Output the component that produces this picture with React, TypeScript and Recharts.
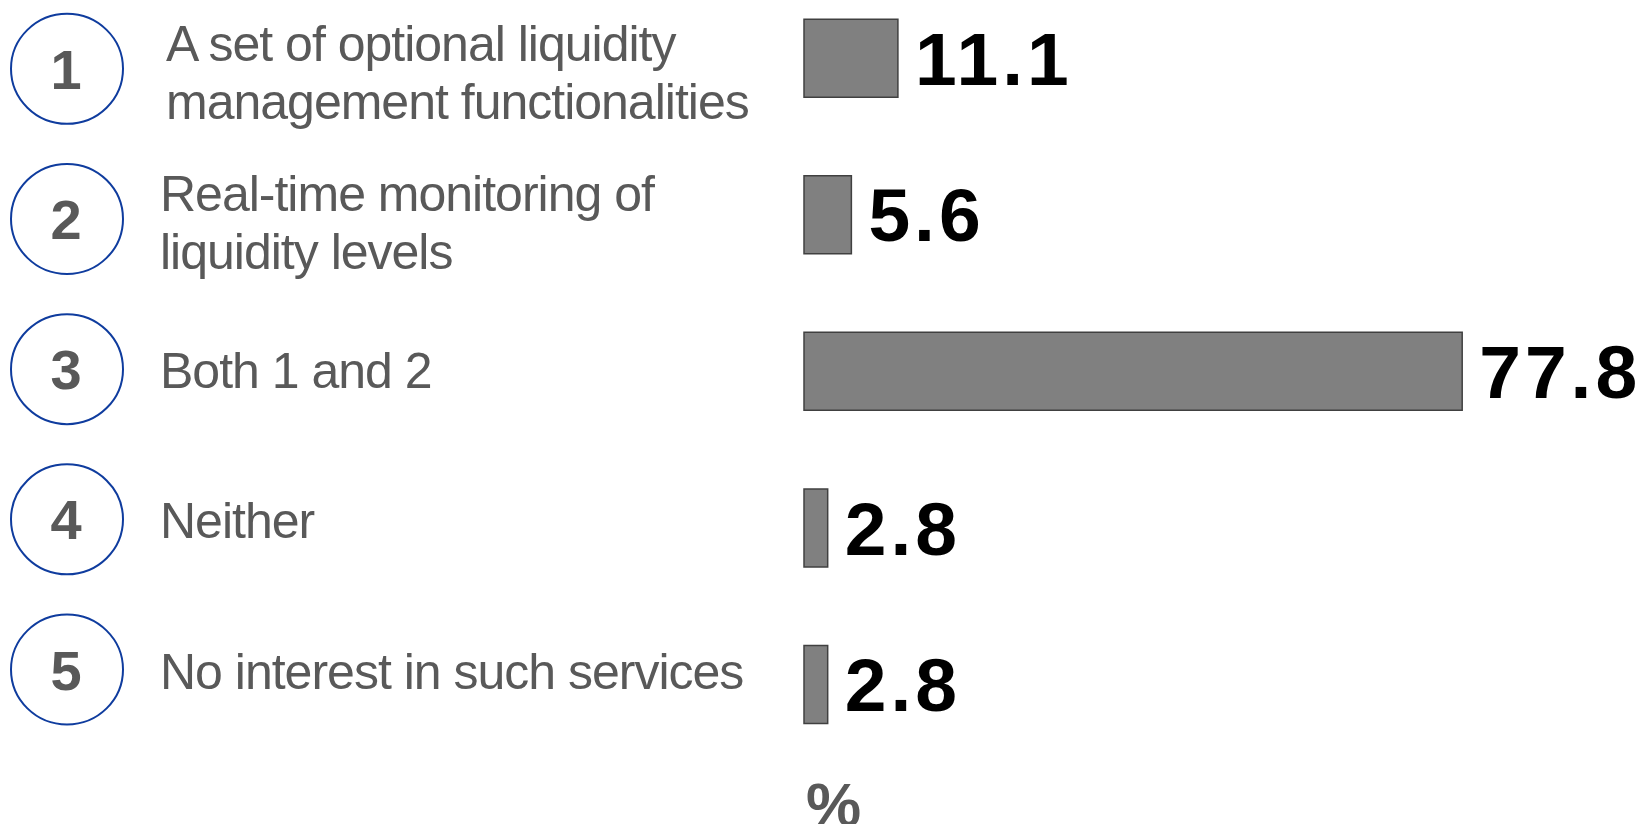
import { BarChart, Bar, XAxis, YAxis, LabelList, Label } from 'recharts';

const numbers = ['1', '2', '3', '4', '5'];
const labelLines = [
  ['A set of optional liquidity', 'management functionalities'],
  ['Real-time monitoring of', 'liquidity levels'],
  ['Both 1 and 2'],
  ['Neither'],
  ['No interest in such services'],
];
const values = [11.1, 5.6, 77.8, 2.8, 2.8];

const data = numbers.map((n, i) => ({ name: n, value: values[i] }));

const GREY = '#595959';
const BLUE = '#0f3c9e';

function OptionTick(props: any) {
  const { y, payload } = props;
  const i = payload.index;
  // the numbered list sits a little tighter than the bars
  const cy = y * 0.959 + 13.7;
  const lines = labelLines[i];
  const first = lines.length > 1 ? cy - 8 : cy + 19;
  return (
    <g>
      <ellipse cx={67} cy={cy} rx={56} ry={55} fill="none" stroke={BLUE} strokeWidth={2} />
      <text
        x={66}
        y={cy + 20}
        textAnchor="middle"
        fontFamily="Liberation Sans, Arial, sans-serif"
        fontWeight="bold"
        fontSize={56}
        fill={GREY}
      >
        {numbers[i]}
      </text>
      {lines.map((line, k) => (
        <text
          key={k}
          x={i === 0 ? 166 : 160}
          y={first + k * 58}
          fontFamily="Liberation Sans, Arial, sans-serif"
          fontSize={50}
          letterSpacing={-1}
          fill={GREY}
        >
          {line}
        </text>
      ))}
    </g>
  );
}

export default function App() {
  return (
    <div style={{ position: 'absolute', top: 0, left: 0, width: 1639, height: 824, overflow: 'hidden', background: '#fff' }}>
      <div style={{ marginTop: -20 }}>
        <BarChart
          width={1650}
          height={864}
          data={data}
          layout="vertical"
          barCategoryGap="25%"
          margin={{ top: 0, right: 0, left: 0, bottom: 0 }}
        >
          <XAxis
            type="number"
            domain={[0, 100]}
            axisLine={false}
            tickLine={false}
            tick={false}
            height={81}
          >
            <Label
              content={({ viewBox }: any) => (
                <text
                  x={viewBox.x + 2}
                  y={viewBox.y + 63}
                  fontFamily="Liberation Sans, Arial, sans-serif"
                  fontWeight="bold"
                  fontSize={62}
                  fill={GREY}
                >
                  %
                </text>
              )}
            />
          </XAxis>
          <YAxis
            type="category"
            dataKey="name"
            width={804}
            axisLine={false}
            tickLine={false}
            tick={<OptionTick />}
          />
          <Bar dataKey="value" fill="#808080" stroke="#404040" strokeWidth={1.5} isAnimationActive={false}>
            <LabelList
              dataKey="value"
              position="right"
              offset={17}
              fill="#000"
              fontFamily="Liberation Sans, Arial, sans-serif"
              fontWeight="bold"
              fontSize={75}
              letterSpacing={4}
            />
          </Bar>
        </BarChart>
      </div>
    </div>
  );
}
